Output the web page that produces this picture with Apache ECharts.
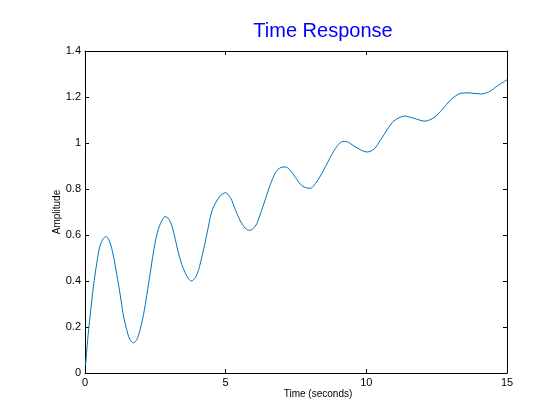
<!DOCTYPE html>
<html>
<head>
<meta charset="utf-8">
<title>Time Response</title>
<script src="https://cdn.jsdelivr.net/npm/echarts@6/dist/echarts.min.js"></script>
<style>
  html, body { margin: 0; padding: 0; background: #fff; }
  #chart { width: 560px; height: 420px; }
</style>
</head>
<body>
<div id="chart"></div>
<script>
// values
const timeSec = [
  0, 0.02, 0.095, 0.18, 0.3, 0.42, 0.53, 0.65, 0.75, 0.89, 1.01, 1.13, 1.25, 1.36,
  1.48, 1.6, 1.72, 1.84, 1.96, 2.08, 2.2, 2.32, 2.43, 2.55, 2.67, 2.85, 2.97, 3.09,
  3.21, 3.32, 3.44, 3.56, 3.68, 3.78, 3.92, 4.04, 4.16, 4.28, 4.39, 4.51, 4.68, 4.83,
  4.99, 5.17, 5.34, 5.52, 5.7, 5.85, 6.06, 6.23, 6.41, 6.59, 6.77, 6.95, 7.13, 7.3,
  7.48, 7.66, 7.84, 8.02, 8.19, 8.37, 8.55, 8.85, 9.08, 9.26, 9.56, 9.86, 10.03,
  10.27, 10.51, 10.75, 10.98, 11.36, 11.7, 12.08, 12.41, 12.71, 13.0, 13.36, 13.65,
  14.07, 14.37, 14.67, 15
]
const amplitude = [
  0.03, 0.036, 0.145, 0.247, 0.377, 0.479, 0.552, 0.584, 0.593, 0.566, 0.508, 0.428, 0.341, 0.254,
  0.189, 0.145, 0.131, 0.145, 0.189, 0.254, 0.341, 0.436, 0.523, 0.6, 0.646, 0.68, 0.671, 0.639,
  0.581, 0.523, 0.472, 0.436, 0.41, 0.4, 0.414, 0.45, 0.508, 0.573, 0.639, 0.704, 0.748, 0.773,
  0.784, 0.762, 0.712, 0.661, 0.629, 0.62, 0.639, 0.69, 0.755, 0.82, 0.871, 0.893, 0.896, 0.881,
  0.85, 0.82, 0.806, 0.803, 0.824, 0.857, 0.898, 0.966, 1.002, 1.007, 0.987, 0.966, 0.961,
  0.973, 1.014, 1.06, 1.096, 1.117, 1.107, 1.095, 1.111, 1.147, 1.188, 1.216, 1.218,
  1.213, 1.223, 1.249, 1.275
]
const xTicks = [0, 5, 10, 15]
const yTicks = [0, 0.2, 0.4, 0.6, 0.8, 1, 1.2, 1.4]

const font = 'Liberation Sans, Arial, Helvetica, sans-serif'

const baseAxis = {
  axisLine: { show: true, onZero: false, lineStyle: { color: '#000', width: 1 } },
  axisTick: { show: true, inside: true, length: 4, lineStyle: { color: '#000' } },
  splitLine: { show: false }
}

const chart = echarts.init(document.getElementById('chart'), null, { renderer: 'canvas' })

chart.setOption({
  animation: false,
  backgroundColor: '#fff',
  title: {
    text: 'Time Response',
    left: 318,
    top: 16,
    textAlign: 'center',
    textStyle: { color: '#0000ff', fontFamily: font, fontSize: 20, fontWeight: 'normal' }
  },
  grid: { left: 85, right: 53, top: 51, bottom: 47 },
  xAxis: [
    {
      ...baseAxis,
      type: 'value',
      min: xTicks[0],
      max: xTicks[xTicks.length - 1],
      interval: 5,
      name: 'Time (seconds)',
      nameLocation: 'middle',
      nameGap: 16,
      nameMoveOverlap: false,
      nameTextStyle: { color: '#000', fontFamily: font, fontSize: 10, padding: [0, 0, 0, 44] },
      axisLabel: { color: '#000', fontFamily: font, fontSize: 11, margin: 4 }
    },
    {
      ...baseAxis,
      type: 'value',
      position: 'top',
      min: xTicks[0],
      max: xTicks[xTicks.length - 1],
      interval: 5,
      axisLabel: { show: false }
    }
  ],
  yAxis: [
    {
      ...baseAxis,
      type: 'value',
      min: yTicks[0],
      max: yTicks[yTicks.length - 1],
      interval: 0.2,
      name: 'Amplitude',
      nameLocation: 'middle',
      nameGap: 23,
      nameMoveOverlap: false,
      nameTextStyle: { color: '#000', fontFamily: font, fontSize: 10 },
      axisLabel: {
        color: '#000', fontFamily: font, fontSize: 11, margin: 4,
        formatter: v => String(Math.round(v * 10) / 10)
      }
    },
    {
      ...baseAxis,
      type: 'value',
      position: 'right',
      min: yTicks[0],
      max: yTicks[yTicks.length - 1],
      interval: 0.2,
      axisLabel: { show: false }
    }
  ],
  series: [
    {
      type: 'line',
      data: timeSec.map((t, i) => [t, amplitude[i]]),
      smooth: 0.3,
      showSymbol: false,
      lineStyle: { color: '#0072bd', width: 1 },
      clip: true
    }
  ]
})
</script>
</body>
</html>
